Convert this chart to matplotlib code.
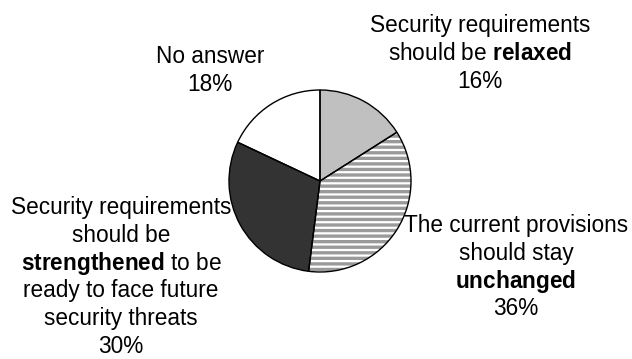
import matplotlib
matplotlib.use("Agg")
import matplotlib.pyplot as plt

plt.rcParams['font.family'] = ['Liberation Sans', 'DejaVu Sans']
plt.rcParams['mathtext.fontset'] = 'custom'
plt.rcParams['mathtext.rm'] = 'Liberation Sans'
plt.rcParams['mathtext.bf'] = 'Liberation Sans:bold'
plt.rcParams['hatch.linewidth'] = 2.4

# slices, clockwise from 12 o'clock
values = [16, 36, 30, 18]
labels = [
    "Security requirements\nshould be $\\mathbf{relaxed}$\n16%",
    "The current provisions\nshould stay\n$\\mathbf{unchanged}$\n36%",
    "Security requirements\nshould be\n$\\mathbf{strengthened}$ to be\nready to face future\nsecurity threats\n30%",
    "No answer\n18%",
]
face_colors = ['#c0c0c0', 'white', '#333333', 'white']
hatches = [None, '---', None, None]

# label anchor: centre x, first baseline y (pixels from top-left)
label_pos = [(480, 32), (516, 232), (121, 214), (210, 63)]
line_step = 27.8

W, H = 632, 359
fig = plt.figure(figsize=(W / 100, H / 100), dpi=100)

cx, cy, r = 320, 181, 91
pad = 1.04
ax = fig.add_axes([(cx - r * pad) / W, (H - cy - r * pad) / H, 2 * r * pad / W, 2 * r * pad / H])

# filled slices with stripes (no outline)
wedges, _ = ax.pie(values, startangle=90, counterclock=False, colors=face_colors,
                   wedgeprops=dict(linewidth=0))
for w, h, fc in zip(wedges, hatches, face_colors):
    if h:
        w.set_hatch(h)
        w.set_edgecolor('#9a9a9a')
    else:
        w.set_edgecolor(fc)

# black outlines on top
ax.pie(values, startangle=90, counterclock=False,
       wedgeprops=dict(facecolor='none', edgecolor='black', linewidth=1.0))
ax.set_xlim(-pad, pad)
ax.set_ylim(-pad, pad)
ax.axis('off')

for text, (x, y0) in zip(labels, label_pos):
    for i, line in enumerate(text.split('\n')):
        fig.text(x / W, 1 - (y0 + i * line_step) / H, line, ha='center', va='baseline',
                 fontsize=16.3, color='black')

fig.savefig('out.png', dpi=100)
